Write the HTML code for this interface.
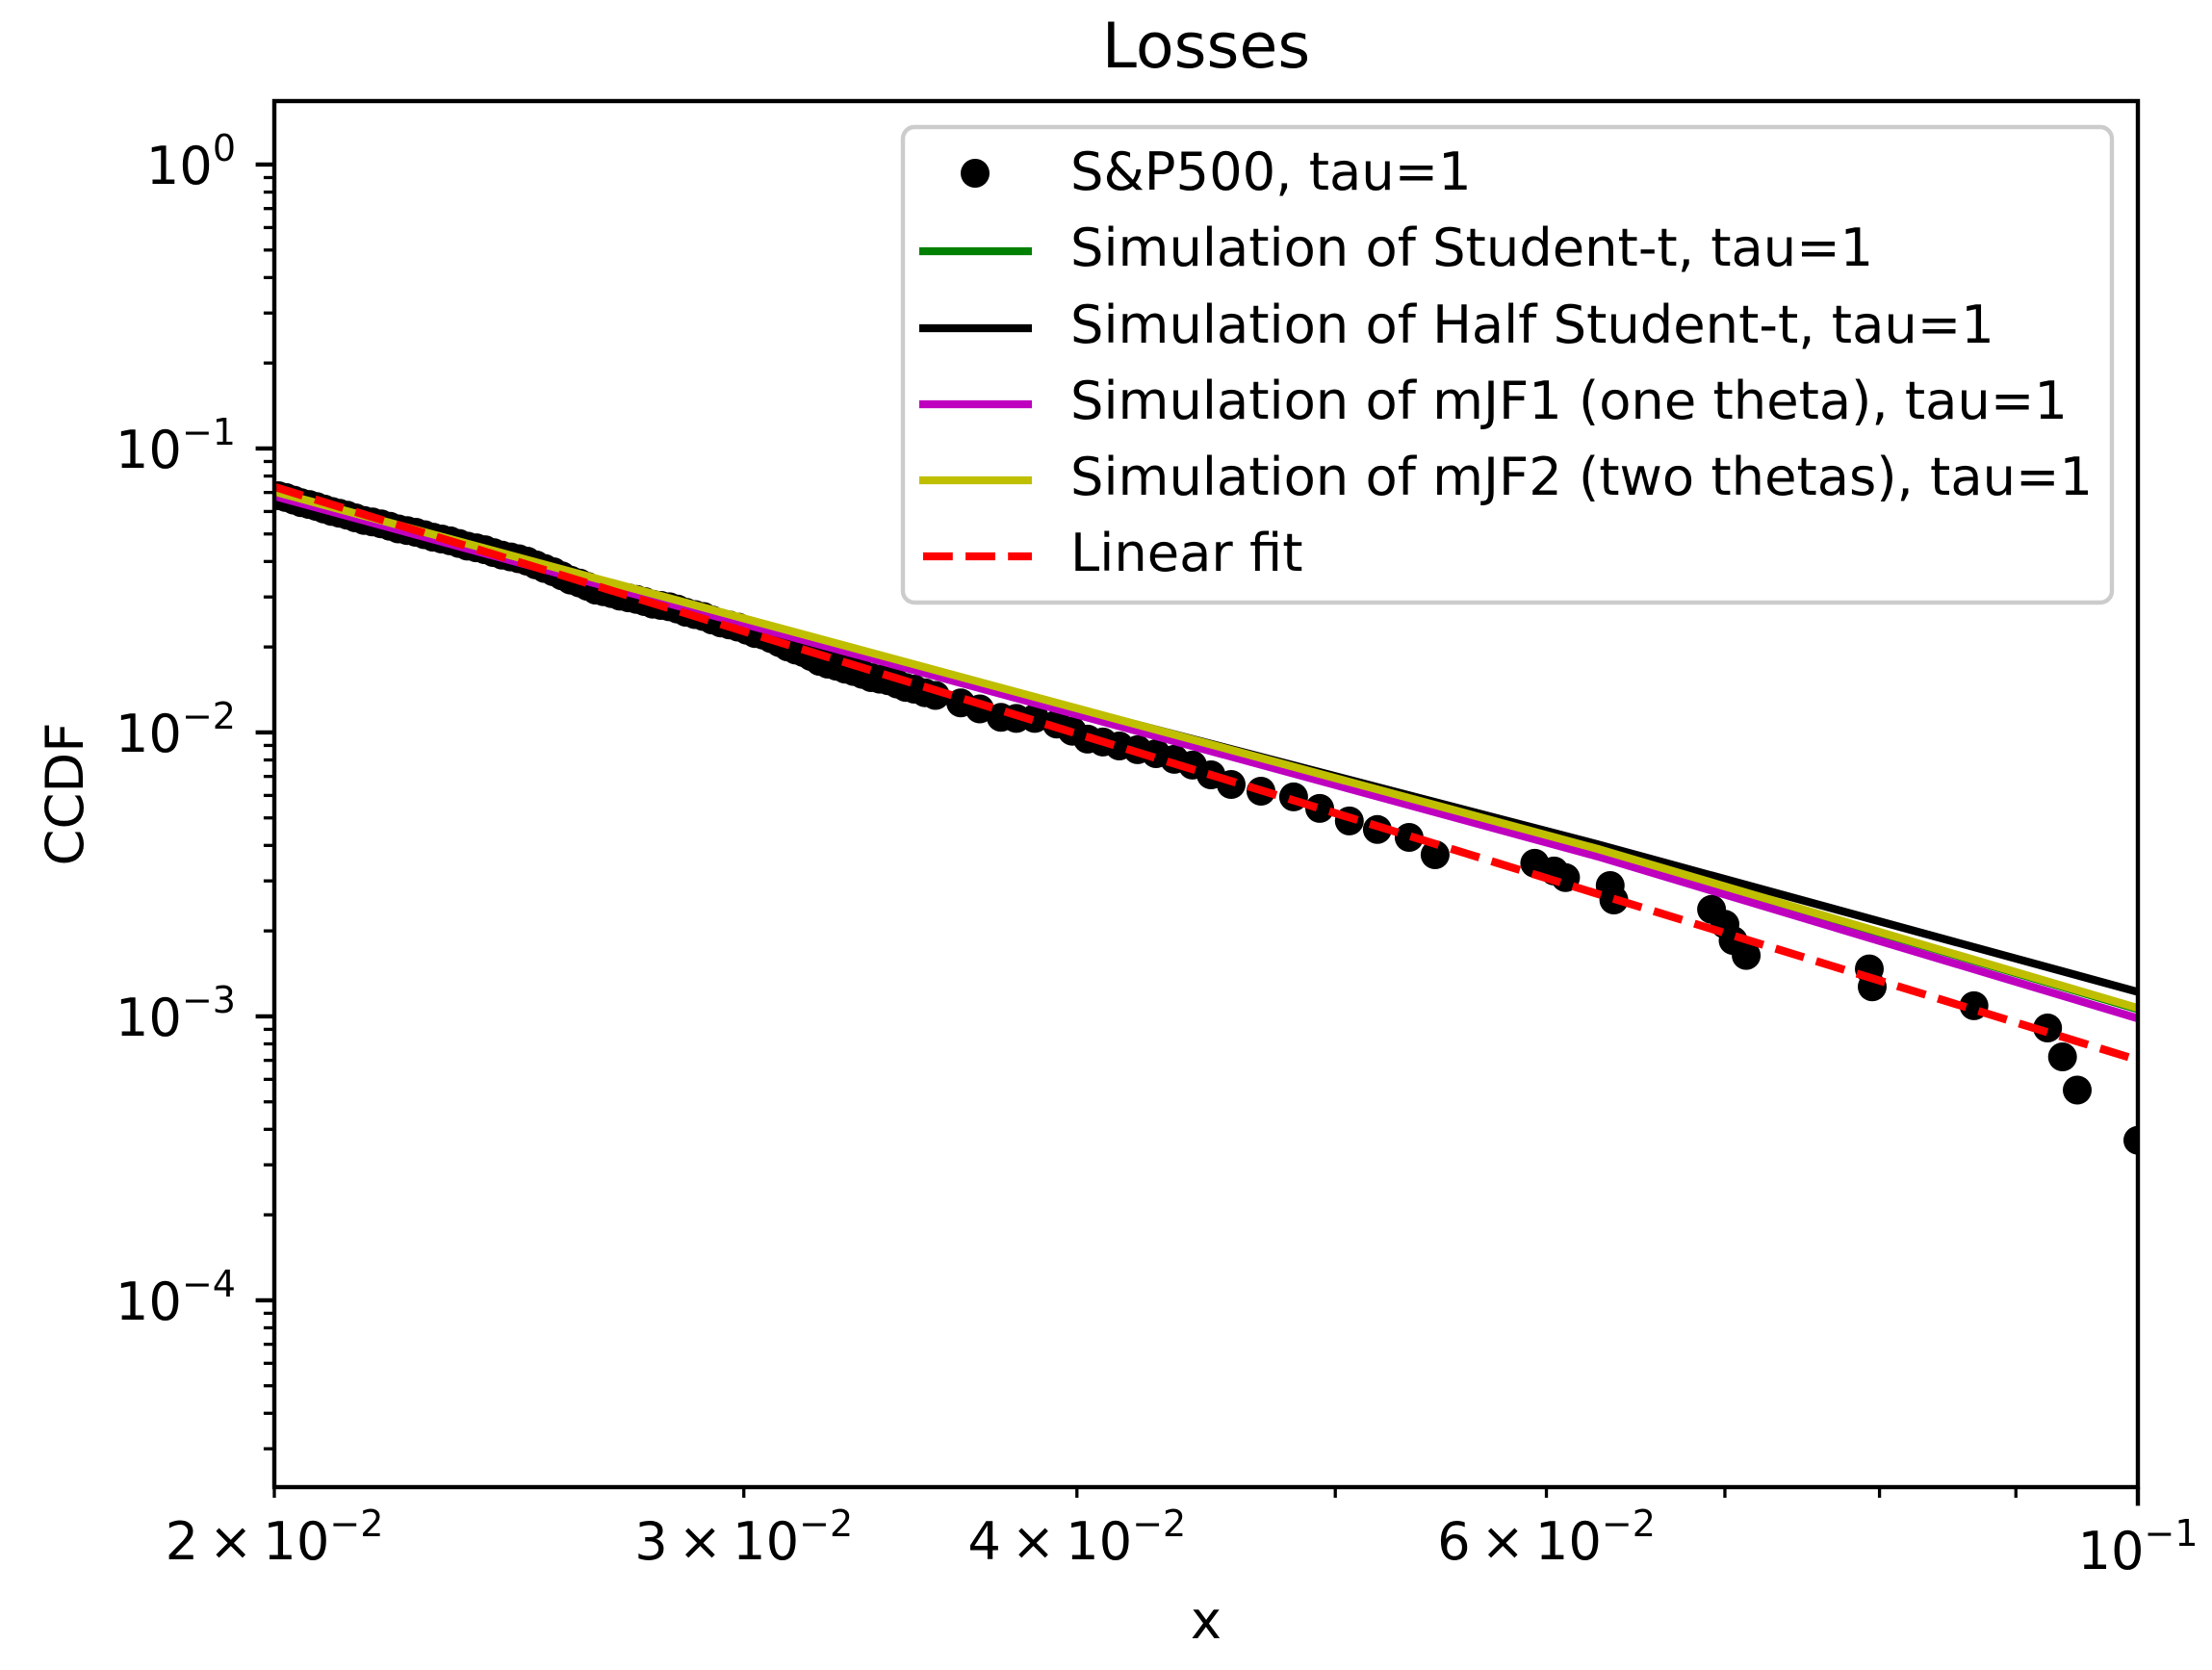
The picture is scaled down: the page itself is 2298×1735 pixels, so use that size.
<!DOCTYPE html>
<html><head><meta charset="utf-8"><style>
html,body{margin:0;padding:0;background:#fff;}
svg{display:block;font-family:"DejaVu Sans","Liberation Sans",sans-serif;}
</style></head><body>
<svg id="chart" width="2298" height="1735" viewBox="0 0 2298 1735" xmlns="http://www.w3.org/2000/svg">
<rect x="0" y="0" width="2298" height="1735" fill="#fff"/>
<text x="1253" y="70" font-size="65" text-anchor="middle">Losses</text>
<text x="1253" y="1702" font-size="54.3" text-anchor="middle">x</text>
<text x="0" y="0" font-size="54.3" text-anchor="middle" transform="translate(86,825) rotate(-90)">CCDF</text>
<defs><clipPath id="plotclip"><rect x="285" y="105" width="1936" height="1440"/></clipPath></defs>
<g id="series" clip-path="url(#plotclip)"></g>
<g id="axes"></g>
<g id="legend"></g>
</svg>
<script>
// ---- data ----
const dataX = [0.02007,0.02034,0.02061,0.02088,0.02116,0.02145,0.02177,0.02210,0.02243,0.02277,0.02311,0.02346,0.02381,0.02417,0.02453,0.02488,0.02526,0.02564,0.02603,0.02640,0.02677,0.02716,0.02754,0.02793,0.02833,0.02876,0.02919,0.02963,0.03008,0.03051,0.03094,0.03138,0.03180,0.03226,0.03274,0.03324,0.03374,0.03425,0.03476,0.03540,0.03618,0.03678,0.03746,0.03796,0.03857,0.03931,0.03984,0.04037,0.04091,0.04149,0.04215,0.04283,0.04351,0.04420,0.04491,0.04570,0.04689,0.04823,0.04933,0.05061,0.05185,0.05329,0.05450,0.0594,0.0604,0.0610,0.0634,0.0636,0.0692,0.0700,0.0705,0.0713,0.0793,0.0795,0.0868,0.0925,0.0937,0.0949,0.1000,
0.02020,0.02047,0.02074,0.02102,0.02130,0.02161,0.02193,0.02226,0.02260,0.02294,0.02328,0.02363,0.02399,0.02435,0.02470,0.02507,0.02545,0.02583,0.02621,0.02658,0.02696,0.02735,0.02773,0.02813,0.02854,0.02897,0.02941,0.02985,0.03029,0.03072,0.03116,0.03159,0.03203,0.03250,0.03299,0.03349,0.03399,0.03450,0.03508];
const dataY = [0.0682,0.0658,0.0635,0.0612,0.0591,0.0570,0.0551,0.0532,0.0514,0.0497,0.0480,0.0463,0.0447,0.0430,0.0415,0.0401,0.0378,0.0356,0.0336,0.0317,0.0308,0.0298,0.0289,0.0280,0.0272,0.0260,0.0249,0.0239,0.0229,0.0220,0.0207,0.0195,0.0185,0.0174,0.0167,0.0160,0.0154,0.0148,0.0142,0.0135,0.0127,0.0121,0.0113,0.0112,0.0112,0.0107,0.0101,0.00947,0.00925,0.00896,0.00869,0.00842,0.00804,0.00767,0.00709,0.00656,0.00621,0.00593,0.00540,0.00488,0.00455,0.00427,0.00371,0.00346,0.00325,0.00308,0.00289,0.00257,0.00238,0.00211,0.00185,0.00164,0.00147,0.00127,0.00109,0.00091,0.00072,0.00055,0.000366,
0.0672,0.0644,0.0625,0.0600,0.0582,0.0558,0.0543,0.0521,0.0507,0.0487,0.0473,0.0453,0.0440,0.0421,0.0409,0.0389,0.0368,0.0344,0.0327,0.0313,0.0302,0.0294,0.0283,0.0277,0.0265,0.0256,0.0243,0.0235,0.0223,0.0214,0.0200,0.0191,0.0178,0.0171,0.0164,0.0156,0.0152,0.0144,0.0138];
const simX = [0.02,0.0627,0.1];
const studentY = [0.0703,0.00388,0.00106];
const halfStudentY = [0.0656,0.00404,0.00122];
const mjf1Y = [0.0680,0.00366,0.000984];
const mjf2Y = [0.0705,0.00389,0.00107];
const fitX = [0.02,0.1];
const fitY = [0.0733,0.000702];
const yMajorTicks = [1,0.1,0.01,0.001,0.0001];
const yMajorExp = ["0","−1","−2","−3","−4"];
const xTickVals = [0.02,0.03,0.04,0.06,0.1];
const xTickMant = ["2","3","4","6",""];
const xTickExp = ["−2","−2","−2","−2","−1"];
const legendLabels = ["S&P500, tau=1","Simulation of Student-t, tau=1","Simulation of Half Student-t, tau=1","Simulation of mJF1 (one theta), tau=1","Simulation of mJF2 (two thetas), tau=1","Linear fit"];

// ---- axes functions ----
const L=285,R=2221,T=105,B=1545;
const xMin=0.02,xMax=0.1;
const yMin=Math.pow(10,-4.658),yMax=Math.pow(10,0.2237);
function sx(v){return L+(Math.log10(v)-Math.log10(xMin))/(Math.log10(xMax)-Math.log10(xMin))*(R-L);}
function sy(v){return B-(Math.log10(v)-Math.log10(yMin))/(Math.log10(yMax)-Math.log10(yMin))*(B-T);}
const NS="http://www.w3.org/2000/svg";
function mk(tag,attrs,parent){const e=document.createElementNS(NS,tag);for(const k in attrs)e.setAttribute(k,attrs[k]);parent.appendChild(e);return e;}

const series=document.getElementById('series');
function line(xs,ys,color,name,dash){
  const pts=xs.map((x,i)=>sx(x).toFixed(1)+','+sy(ys[i]).toFixed(1)).join(' ');
  const p=mk('polyline',{points:pts,fill:'none',stroke:color,'stroke-width':8.3,'stroke-linejoin':'round'},series);
  if(dash)p.setAttribute('stroke-dasharray',dash);
  
  
}
const sg=mk('g',{},series);


dataX.forEach((x,i)=>{
  const c=mk('circle',{cx:sx(x).toFixed(1),cy:sy(dataY[i]).toFixed(1),r:15,fill:'#000'},sg);
  
  
});
line(simX,studentY,'#008000','student-t-line');
line(simX,halfStudentY,'#000000','half-student-t-line');
line(simX,mjf1Y,'#bf00bf','mjf1-line');
line(simX,mjf2Y,'#bfbf00','mjf2-line');
line(fitX,fitY,'#ff0000','linear-fit-line','30.8,13.3');

// ---- axes ----
const ax=document.getElementById('axes');
for(let e=-5;e<=0;e++){
  for(let m=1;m<=9;m++){
    const v=m*Math.pow(10,e);
    if(v<yMin||v>yMax)continue;
    const y=sy(v);
    const major=(m===1);
    const t=mk('line',{x1:L,x2:L-(major?19.4:11.1),y1:y,y2:y,stroke:'#000','stroke-width':major?4.4:3.3},ax);
    
    
  }
}
yMajorTicks.forEach((v,i)=>{
  const y=sy(v);
  const tx=mk('text',{x:245,y:y+20,'font-size':54.3,'text-anchor':'end'},ax);
  
  
  const a=mk('tspan',{},tx);a.textContent='10';
  const b=mk('tspan',{'font-size':38,dy:-24},tx);b.textContent=yMajorExp[i];
});
for(let m=2;m<=10;m++){
  const v=m/100;const x=sx(v);const major=(m===10);
  const t=mk('line',{x1:x,x2:x,y1:B,y2:B+(major?19.4:11.1),stroke:'#000','stroke-width':major?4.4:3.3},ax);
  
  
}
xTickVals.forEach((v,i)=>{
  const x=sx(v);
  const tx=mk('text',{x:x,y:xTickMant[i]?1620:1630,'font-size':54.3,'text-anchor':'middle'},ax);
  
  
  const a=mk('tspan',{},tx);a.textContent=(xTickMant[i]?xTickMant[i]+'\u2009×\u2009':'')+'10';
  const b=mk('tspan',{'font-size':38,dy:-24},tx);b.textContent=xTickExp[i];
});
const frame=mk('rect',{x:L,y:T,width:R-L,height:B-T,fill:'none',stroke:'#000','stroke-width':4.4},ax);



// ---- legend ----
const lg=document.getElementById('legend');
const box=mk('rect',{x:938,y:132,width:1256,height:494,rx:12,ry:12,fill:'#fff','fill-opacity':0.8,stroke:'#cccccc','stroke-width':4.4},lg);


const rowY=[177,256,336,415,494,573];
const colors=[null,'#008000','#000000','#bf00bf','#bfbf00','#ff0000'];
legendLabels.forEach((lab,i)=>{
  const g=mk('g',{},lg);
  
  
  if(i===0){mk('circle',{cx:1013,cy:rowY[i]+3,r:15,fill:'#000'},g);}
  else{
    const ln=mk('line',{x1:i===5?959:955,x2:1072,y1:rowY[i]+5,y2:rowY[i]+5,stroke:colors[i],'stroke-width':8.3},g);
    if(i===5)ln.setAttribute('stroke-dasharray','30.8,13.3');
  }
  const t=mk('text',{x:1112,y:rowY[i]+20,'font-size':54.3},g);
  t.textContent=lab;
});
</script>
</body></html>
